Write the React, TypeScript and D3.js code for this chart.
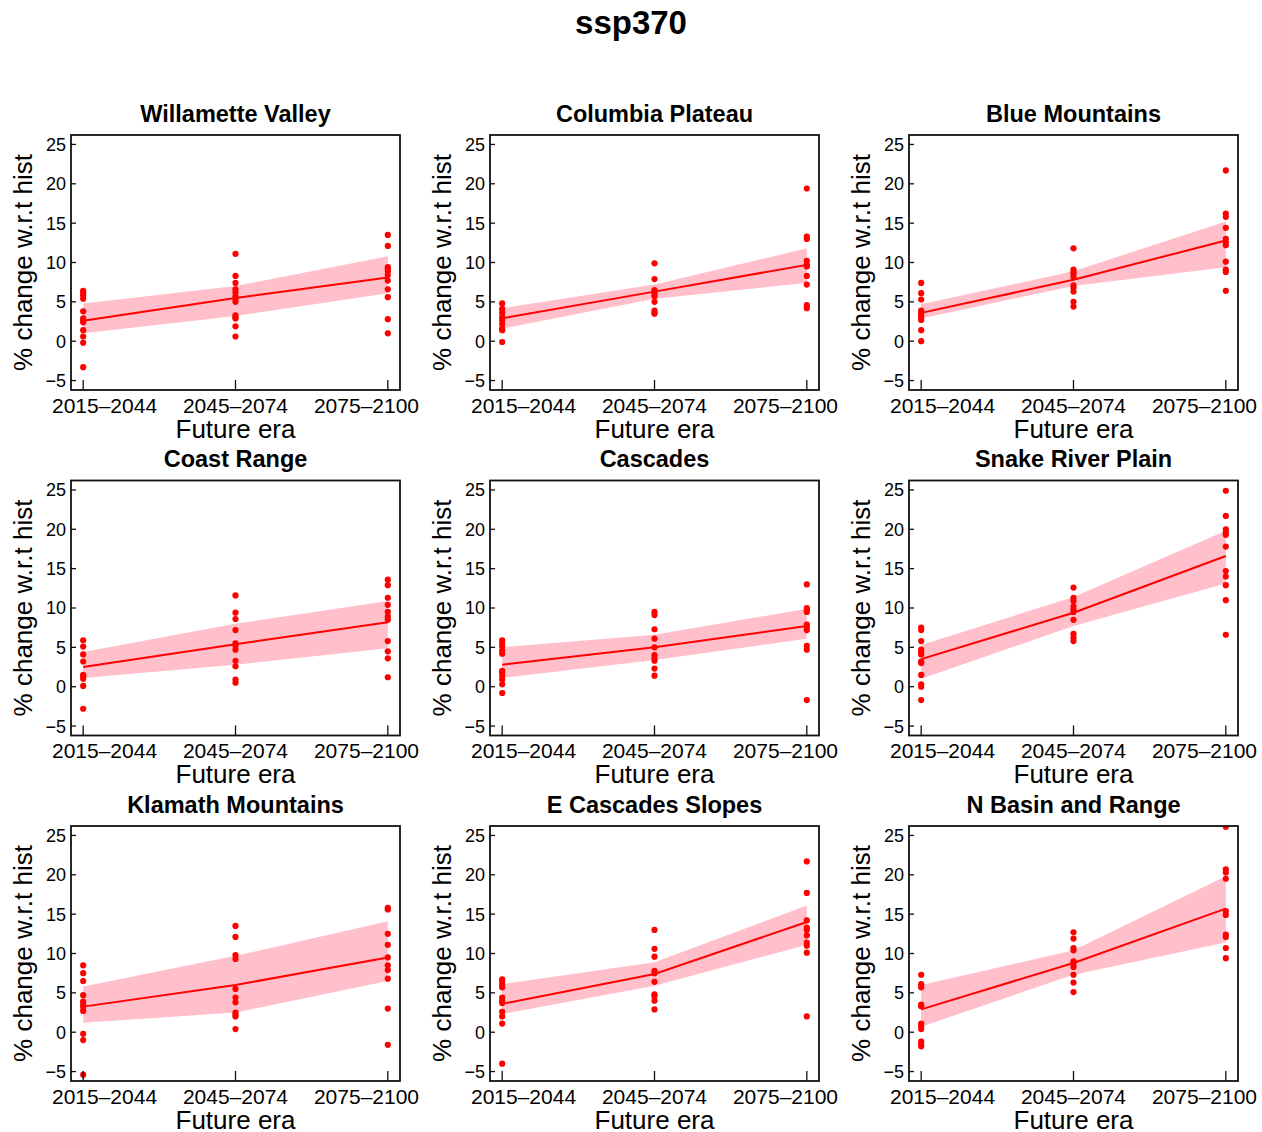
import React from "react";
import * as d3 from "d3";

const mainTitle = "ssp370";
const regions = [
  "Willamette Valley", "Columbia Plateau", "Blue Mountains",
  "Coast Range", "Cascades", "Snake River Plain",
  "Klamath Mountains", "E Cascades Slopes", "N Basin and Range",
];
const eras = ["2015–2044", "2045–2074", "2075–2100"];
const yTicks = [-5, 0, 5, 10, 15, 20, 25];
const xLabel = "Future era";
const yLabel = "% change w.r.t hist";

// model points per region, per era
const pointsByRegion: number[][][] = [
  [ // Willamette Valley
    [6.4, 6.1, 5.8, 5.4, 3.8, 2.9, 2.6, 2.4, 1.4, 0.6, -0.2, -3.3],
    [11.1, 8.3, 7.4, 6.6, 6.2, 5.7, 5.3, 5.0, 3.3, 3.0, 2.9, 1.9, 0.6],
    [13.5, 12.1, 9.4, 9.2, 8.9, 8.4, 7.7, 6.6, 5.6, 2.8, 1.0],
  ],
  [ // Columbia Plateau
    [4.8, 4.1, 3.6, 3.1, 2.7, 2.2, 1.6, 1.4, -0.1],
    [9.9, 7.9, 6.5, 6.3, 6.0, 5.7, 5.0, 3.9, 3.6, 3.5],
    [19.4, 13.3, 13.0, 10.2, 9.7, 9.5, 8.3, 7.2, 4.6, 4.2],
  ],
  [ // Blue Mountains
    [7.4, 6.1, 5.3, 3.9, 3.6, 3.3, 3.0, 2.7, 1.4, 0.0],
    [11.8, 9.1, 8.8, 8.6, 8.2, 7.1, 6.8, 6.3, 5.0, 4.4],
    [21.7, 16.2, 15.8, 14.4, 13.0, 12.6, 12.2, 10.1, 9.1, 8.8, 6.4],
  ],
  [ // Coast Range
    [5.9, 5.1, 4.1, 3.2, 1.5, 1.3, 1.0, 0.1, -2.8],
    [11.6, 9.4, 8.6, 7.2, 5.5, 5.2, 4.7, 3.3, 2.6, 0.9, 0.5],
    [13.6, 12.9, 11.3, 10.4, 9.5, 8.9, 8.5, 5.8, 4.5, 3.6, 1.2],
  ],
  [ // Cascades
    [5.9, 5.5, 5.1, 4.6, 4.2, 2.0, 1.8, 1.4, 0.9, 0.3, -0.8],
    [9.5, 9.1, 7.3, 6.1, 5.0, 4.0, 3.6, 3.3, 2.3, 1.4],
    [13.0, 10.0, 9.7, 9.5, 7.9, 7.6, 7.2, 5.2, 4.7, -1.7],
  ],
  [ // Snake River Plain
    [7.5, 7.2, 5.8, 4.7, 4.4, 4.1, 3.2, 3.0, 1.5, 0.3, 0.0, -1.7],
    [12.6, 11.3, 10.9, 10.2, 9.8, 9.5, 8.5, 6.7, 6.2, 5.8],
    [24.9, 21.7, 20.0, 19.6, 19.3, 17.8, 14.7, 14.0, 12.9, 11.0, 6.6],
  ],
  [ // Klamath Mountains
    [8.5, 7.5, 6.5, 4.7, 3.9, 3.5, 3.2, 2.7, -0.2, -1.0, -5.4],
    [13.5, 12.1, 9.8, 9.3, 5.5, 4.4, 3.8, 2.5, 2.2, 2.0, 0.4],
    [15.8, 15.6, 12.5, 11.1, 9.5, 8.5, 7.9, 6.8, 3.0, -1.6],
  ],
  [ // E Cascades Slopes
    [6.7, 6.4, 6.0, 5.7, 4.4, 4.0, 3.7, 2.6, 2.0, 1.1, -4.0],
    [13.0, 10.6, 9.6, 7.8, 7.5, 6.4, 4.8, 4.6, 4.0, 2.9],
    [21.7, 17.7, 14.2, 13.3, 13.0, 12.3, 11.4, 11.0, 10.1, 2.0],
  ],
  [ // N Basin and Range
    [7.3, 6.1, 5.7, 3.5, 3.3, 1.1, 0.8, 0.4, -1.2, -1.6, -1.8],
    [12.7, 11.9, 10.7, 10.4, 9.0, 8.7, 8.3, 7.3, 6.3, 5.1],
    [26.1, 20.7, 20.3, 19.5, 15.4, 14.9, 12.4, 12.1, 10.7, 9.4],
  ],
];

// ensemble mean and confidence band per region (era1, era2, era3)
const meanByRegion = [
  [2.6, 5.5, 8.1], [2.9, 6.3, 9.7], [3.6, 7.8, 12.8],
  [2.5, 5.4, 8.2], [2.8, 5.0, 7.7], [3.5, 9.4, 16.6],
  [3.25, 6.0, 9.5], [3.6, 7.4, 14.0], [2.9, 8.8, 15.7],
];
const lowerByRegion = [
  [1.0, 3.2, 6.1], [1.6, 5.4, 7.4], [2.9, 7.0, 9.4],
  [1.1, 2.8, 4.9], [1.1, 3.4, 6.1], [1.0, 7.7, 13.1],
  [1.2, 2.5, 6.5], [2.3, 5.9, 11.1], [0.7, 7.3, 11.4],
];
const upperByRegion = [
  [4.8, 7.0, 10.8], [4.2, 7.2, 11.8], [4.7, 8.9, 15.2],
  [4.4, 8.0, 10.9], [5.0, 6.6, 9.9], [5.3, 11.4, 19.8],
  [5.8, 9.7, 14.1], [6.1, 8.9, 16.1], [6.0, 10.4, 19.8],
];

const FONT = "'Liberation Sans', Arial, Helvetica, sans-serif";
const W = 1262;
const H = 1132;
const boxW = 329;
const boxH = 255;
const left0 = 71;
const top0 = 135;
const colStep = 419;
const rowStep = 345.5;
// tick labels are pulled inward so that they fit between panels
const labelShift = [0.14, 0, -0.14];

const x = d3.scaleLinear().domain([0.92, 3.08]).range([0, boxW]);
const y = d3.scaleLinear().domain([-6.2, 26.2]).range([boxH, 0]);
const fmt = d3.format("d");

function Panel({ idx }: { idx: number }) {
  const col = idx % 3;
  const row = Math.floor(idx / 3);
  const lx = left0 + col * colStep;
  const ty = top0 + row * rowStep;
  const mean = meanByRegion[idx];
  const lo = lowerByRegion[idx];
  const hi = upperByRegion[idx];
  const bandData = mean.map((m, i) => ({ e: i + 1, lo: lo[i], hi: hi[i], m }));
  const area = d3.area<any>().x((d) => x(d.e)).y0((d) => y(d.lo)).y1((d) => y(d.hi));
  const line = d3.line<any>().x((d) => x(d.e)).y((d) => y(d.m));
  const clipId = `clip-${idx}`;
  return (
    <g transform={`translate(${lx},${ty})`}>
      <defs>
        <clipPath id={clipId}>
          <rect x={0} y={0} width={boxW} height={boxH} />
        </clipPath>
      </defs>
      <text x={boxW / 2} y={-13.5} textAnchor="middle" fontFamily={FONT} fontWeight="bold" fontSize={23.5}>
        {regions[idx]}
      </text>
      <g clipPath={`url(#${clipId})`}>
        <path d={area(bandData) || ""} fill="#FFC0CB" stroke="none" />
        <path d={line(bandData) || ""} fill="none" stroke="#FF0000" strokeWidth={2} />
        {pointsByRegion[idx].map((vals, ei) =>
          vals.map((v, k) => (
            <circle key={`${ei}-${k}`} cx={x(ei + 1)} cy={y(v)} r={3.1} fill="#FF0000" />
          ))
        )}
      </g>
      {yTicks.map((t) => (
        <g key={t}>
          <line x1={0} x2={5} y1={y(t)} y2={y(t)} stroke="#111" strokeWidth={1.3} />
          <text x={-5} y={y(t)} dy="0.36em" textAnchor="end" fontFamily={FONT} fontSize={18}>
            {fmt(t)}
          </text>
        </g>
      ))}
      {eras.map((e, i) => (
        <g key={e}>
          <line x1={x(i + 1)} x2={x(i + 1)} y1={boxH} y2={boxH - 10} stroke="#111" strokeWidth={1.3} />
          <text x={x(i + 1 + labelShift[i])} y={boxH + 22.5} textAnchor="middle" fontFamily={FONT} fontSize={21}>
            {e}
          </text>
        </g>
      ))}
      <rect x={0} y={0} width={boxW} height={boxH} fill="none" stroke="#111" strokeWidth={1.8} />
      <text x={boxW / 2} y={boxH + 47.5} textAnchor="middle" fontFamily={FONT} fontSize={26}>
        {xLabel}
      </text>
      <text
        transform={`translate(-39.5,${boxH / 2}) rotate(-90)`}
        textAnchor="middle"
        fontFamily={FONT}
        fontSize={26}
      >
        {yLabel}
      </text>
    </g>
  );
}

export default function App() {
  return (
    <svg
      width={W}
      height={H}
      viewBox={`0 0 ${W} ${H}`}
      style={{ position: "absolute", left: 0, top: 0, display: "block", background: "#fff" }}
    >
      <rect x={0} y={0} width={W} height={H} fill="#fff" />
      <text x={631} y={34} textAnchor="middle" fontFamily={FONT} fontWeight="bold" fontSize={33}>
        {mainTitle}
      </text>
      {regions.map((r, i) => (
        <Panel key={r} idx={i} />
      ))}
    </svg>
  );
}
